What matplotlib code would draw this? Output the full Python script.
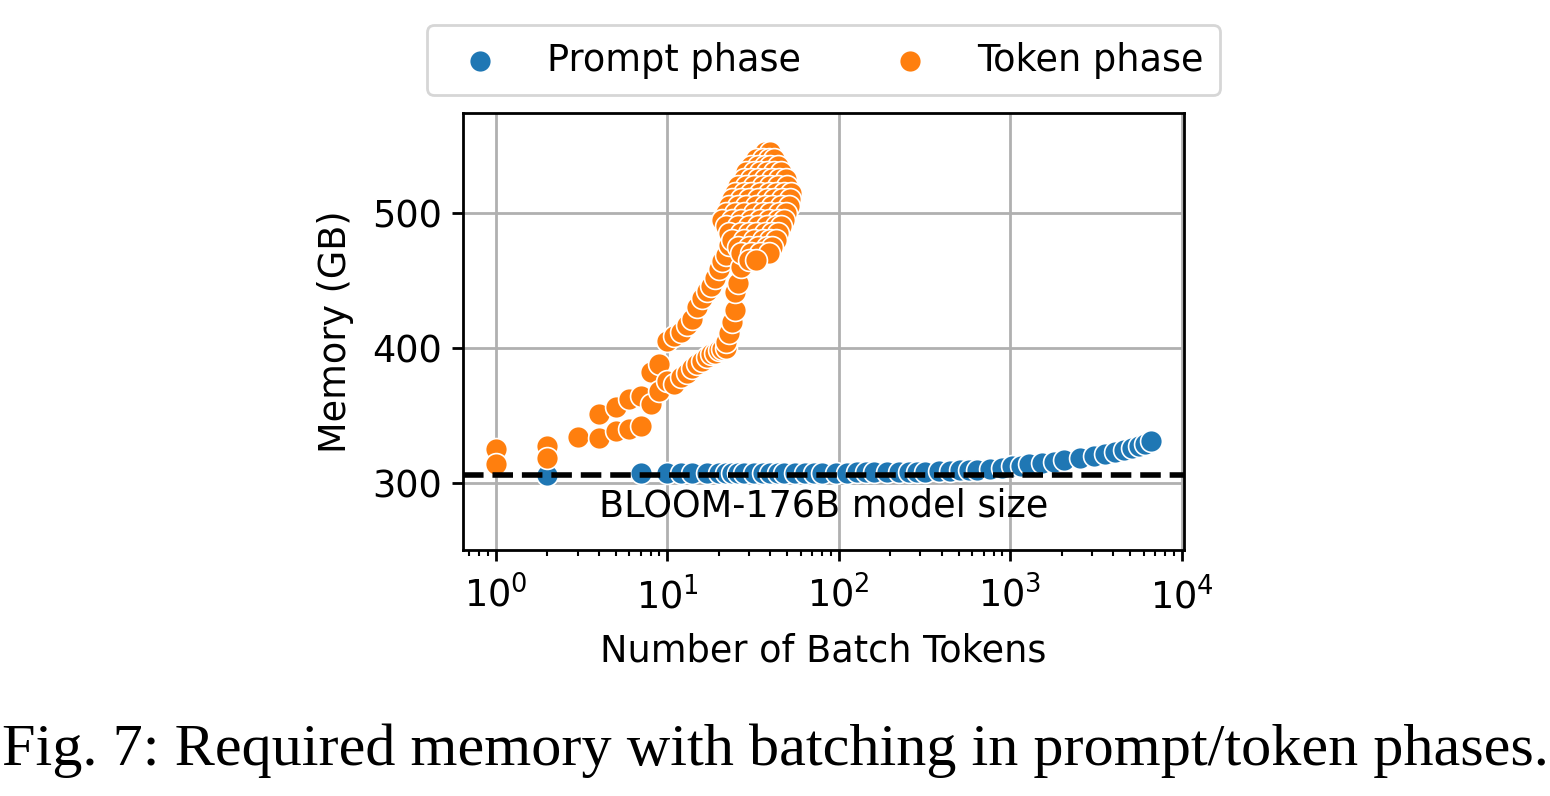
import numpy as np
import matplotlib
matplotlib.use("Agg")
import matplotlib.pyplot as plt
import matplotlib.transforms as mtransforms

# prompt phase: batch tokens vs memory (GB)
prompt_tokens = [2, 7, 10, 12, 14, 17, 20, 22, 24, 26, 28, 32, 36, 40, 44, 48, 56, 64, 72, 80,
                 96, 112, 128, 144, 160, 192, 224, 256, 288, 320, 384, 448, 512, 576, 640,
                 768, 896, 1024, 1152, 1280, 1536, 1792, 2048, 2560, 3072, 3584, 4096,
                 4608, 5120, 5632, 6144, 6656]
prompt_mem = [306, 307, 307, 307, 307, 307, 307, 307, 307, 307, 307, 307, 307, 307, 307, 307,
              307, 307, 307, 307, 307, 307, 307.5, 307.5, 307.5, 307.5, 308, 308, 308, 308,
              308.5, 308.5, 309, 309, 309.5, 310, 311, 312, 312.5, 313.5, 314.5, 315.5,
              316.5, 318, 319.5, 321, 322.5, 324, 325.5, 327, 328.5, 330.5]

# token phase, upper branch
tok_hi_x = [1, 2, 3, 4, 5, 6, 7, 8, 9, 10, 11, 12, 13, 14, 15, 16, 17, 18, 19, 20, 21, 22,
            23, 24, 25, 26, 28]
tok_hi_y = [325, 327, 334, 351, 356, 362, 364, 382, 388, 405, 409, 412, 417, 421, 430, 437,
            442, 446, 452, 458, 464, 469, 476, 483, 490, 496, 504]
# token phase, lower branch
tok_lo_x = [1, 2, 4, 5, 6, 7, 8, 9, 10, 11, 12, 13, 14, 15, 16, 17, 18, 19, 20, 21, 22, 22,
            23, 24, 25, 25, 26, 27, 29]
tok_lo_y = [314, 318, 333, 338, 340, 342, 358, 368, 375, 373, 378, 381, 385, 388, 390, 393,
            395, 396, 398, 399, 400, 404, 411, 419, 428, 441, 448, 460, 468]
# token phase, long-context cloud: memory level -> batch sizes seen at that level
cloud_levels = [545, 540, 535, 530, 525, 520, 515, 510, 505, 500, 495, 490, 485, 480,
                475, 470, 465]
cloud_batches = [
    [37, 40],
    [33, 36, 39, 42],
    [31, 34, 37, 40, 44],
    [29, 32, 35, 38, 42, 46],
    [28, 31, 34, 37, 41, 45, 49],
    [26, 29, 32, 36, 40, 44, 50],
    [25, 28, 31, 35, 39, 43, 48, 53],
    [24, 27, 30, 34, 38, 42, 47, 52],
    [23, 26, 29, 33, 37, 41, 46, 51],
    [22, 25, 28, 32, 36, 40, 45, 49],
    [21, 24, 27, 31, 35, 39, 44, 48],
    [22, 26, 30, 34, 38, 43, 46],
    [23, 27, 30, 33, 37, 41, 44],
    [24, 28, 32, 36, 40, 43],
    [26, 30, 34, 38, 41],
    [27, 31, 35, 39],
    [30, 33],
]

tok_cl_x, tok_cl_y = [], []
for lvl, row in zip(cloud_levels, cloud_batches):
    tok_cl_x += row
    tok_cl_y += [lvl] * len(row)

token_x = tok_hi_x + tok_lo_x + tok_cl_x
token_y = tok_hi_y + tok_lo_y + tok_cl_y

model_size = 306

plt.rcParams.update({
    "font.size": 13.2,
    "axes.linewidth": 1.0,
    "xtick.major.size": 4.0, "xtick.major.width": 1.0,
    "xtick.minor.size": 2.3, "xtick.minor.width": 0.75,
    "ytick.major.size": 4.0, "ytick.major.width": 1.0,
    "xtick.major.pad": 5.5,
    "grid.linewidth": 1.0,
})

fig = plt.figure(figsize=(7.75, 3.98), dpi=200)
ax = fig.add_axes([0.2987, 0.309, 0.4652, 0.549])

ax.scatter(prompt_tokens, prompt_mem, s=62, color="#1f77b4", edgecolor="white",
           linewidth=0.6, label="Prompt phase", zorder=3)
ax.scatter(token_x, token_y, s=62, color="#ff7f0e", edgecolor="white",
           linewidth=0.6, label="Token phase", zorder=3)
ax.axhline(model_size, color="black", linestyle="--", linewidth=2.0, zorder=4)

trans = mtransforms.blended_transform_factory(ax.transAxes, ax.transData)
ax.text(0.5, 283, "BLOOM-176B model size", transform=trans, ha="center", va="center")

ax.set_xscale("log")
ax.set_ylim(250, 574)
ax.set_yticks([300, 400, 500])
ax.grid(True, color="#b0b0b0")
ax.set_axisbelow(True)
ax.set_xlabel("Number of Batch Tokens", labelpad=6)
ax.set_ylabel("Memory (GB)", labelpad=6.5)

ax.legend(loc="lower center", bbox_to_anchor=(0.5, 1.041), ncol=2, columnspacing=1.96,
          handletextpad=0.83, borderpad=0.45, borderaxespad=0)

fig.text(0.5, 0.039, "Fig. 7: Required memory with batching in prompt/token phases.",
         ha="center", va="baseline", family=["Liberation Serif", "DejaVu Serif"], fontsize=21.7)

fig.savefig("out.png", dpi=200)
